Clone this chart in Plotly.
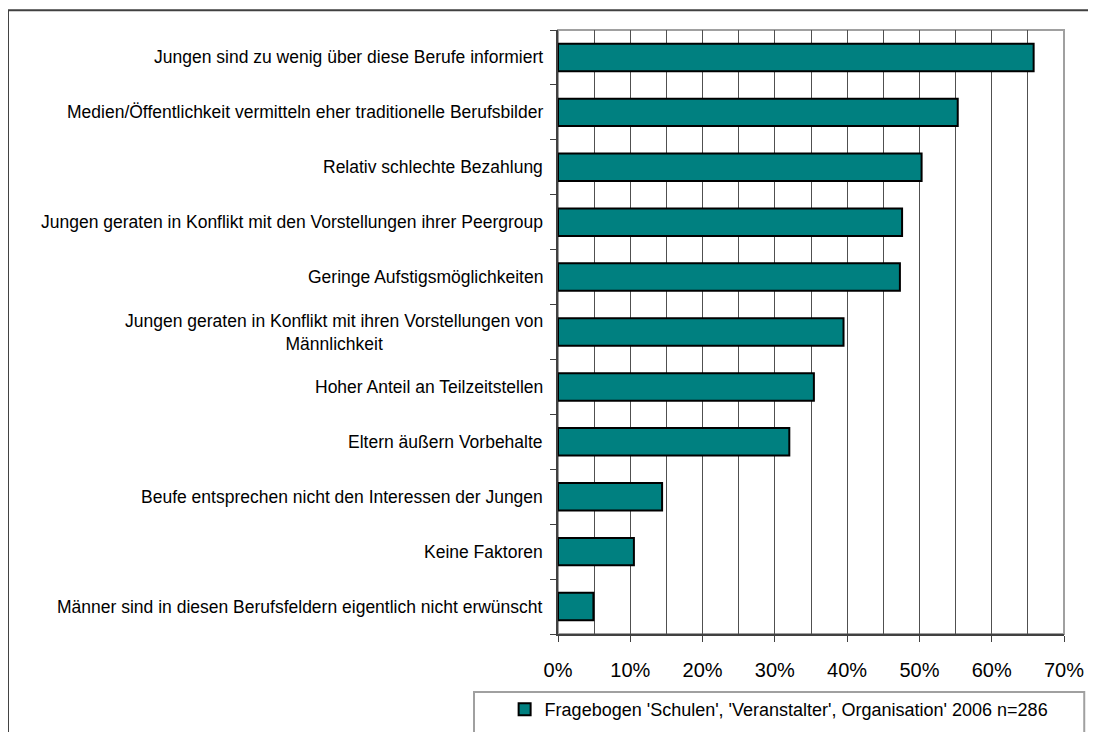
import plotly.graph_objects as go

FONT = "Arial, Liberation Sans, sans-serif"

categories = [
    "Jungen sind zu wenig über diese Berufe informiert",
    "Medien/Öffentlichkeit vermitteln eher traditionelle Berufsbilder",
    "Relativ schlechte Bezahlung",
    "Jungen geraten in Konflikt mit den Vorstellungen ihrer Peergroup",
    "Geringe Aufstigsmöglichkeiten",
    "Jungen geraten in Konflikt mit ihren Vorstellungen von<br>Männlichkeit",
    "Hoher Anteil an Teilzeitstellen",
    "Eltern äußern Vorbehalte",
    "Beufe entsprechen nicht den Interessen der Jungen",
    "Keine Faktoren",
    "Männer sind in diesen Berufsfeldern eigentlich nicht erwünscht",
]
values = [0.658, 0.553, 0.503, 0.476, 0.473, 0.395, 0.354, 0.320, 0.144, 0.105, 0.049]
series_name = "Fragebogen 'Schulen', 'Veranstalter', Organisation' 2006 n=286"
x_ticks = [0, 0.1, 0.2, 0.3, 0.4, 0.5, 0.6, 0.7]

fig = go.Figure()
fig.add_trace(go.Bar(
    x=values,
    y=categories,
    orientation="h",
    name=series_name,
    marker=dict(color="#008080", line=dict(color="#000000", width=2)),
))

# category labels, centred like the Excel original
for cat in categories:
    fig.add_annotation(
        x=0, xref="paper", y=cat, yref="y",
        text=cat, showarrow=False,
        xanchor="right", xshift=-13, align="center",
        font=dict(family=FONT, size=17.5, color="#000000"),
    )

# plot-area frame (light grey) and outer chart frame
fig.add_shape(type="rect", xref="paper", yref="paper", x0=0, x1=1, y0=0, y1=1,
              line=dict(color="#a0a0a0", width=2), layer="below")
fig.add_shape(type="rect", xref="paper", yref="paper", x0=-1.087, x1=1.2, y0=-0.3, y1=1.0328,
              line=dict(color="#404040", width=2), layer="below")
# legend frame
fig.add_shape(type="rect", xref="paper", yref="paper", x0=-0.166, x1=1.04, y0=-0.096, y1=-0.2,
              line=dict(color="#a0a0a0", width=2), fillcolor="white", layer="below")

fig.update_layout(
    width=1096,
    height=732,
    margin=dict(l=550, r=40, t=22, b=101),
    paper_bgcolor="white",
    plot_bgcolor="white",
    font=dict(family=FONT, size=17, color="#000000"),
    bargap=0.5,
    showlegend=True,
    legend=dict(
        orientation="h",
        x=0.437, xanchor="center",
        y=-0.125, yanchor="middle",
        font=dict(family=FONT, size=18, color="#000000"),
        bgcolor="rgba(0,0,0,0)",
        itemwidth=30,
    ),
)
fig.update_xaxes(
    range=[0, 0.7],
    tickvals=x_ticks,
    tickformat=".0%",
    tickfont=dict(family=FONT, size=20, color="#000000"),
    ticks="outside", ticklen=6, tickcolor="#404040",
    ticklabelstandoff=11,
    showgrid=True, gridcolor="#505050", gridwidth=1,
    minor=dict(dtick=0.05, showgrid=True, gridcolor="#505050", gridwidth=1),
    showline=True, linecolor="#404040", linewidth=2,
    zeroline=False,
)
fig.update_yaxes(
    categoryorder="array",
    categoryarray=categories[::-1],
    showticklabels=False,
    tickson="boundaries",
    ticks="outside", ticklen=6, tickcolor="#404040",
    showgrid=False,
    showline=True, linecolor="#404040", linewidth=2,
)

fig.write_html("out.html")
